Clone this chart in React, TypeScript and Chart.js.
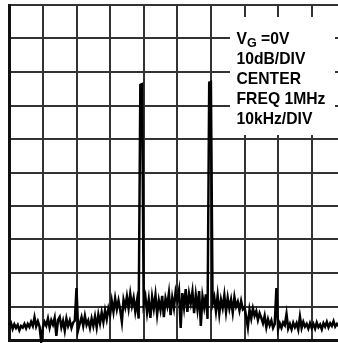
import React, { useEffect, useRef } from "react";
import { Chart, registerables } from "chart.js";

Chart.register(...registerables);

// Frequency offset from the 1 MHz centre, in kHz (10 kHz/DIV)
const FREQ_KHZ = [
  -50, -49.5, -49, -48.5, -48, -47.5, -47, -46.5, -46, -45.5,
  -45, -44.5, -44, -43.5, -43, -42.5, -42, -41.5, -41, -40.5,
  -40, -39.5, -39, -38.5, -38, -37.5, -37, -36.5, -36, -35.5,
  -35, -34.5, -34, -33.5, -33, -32.5, -32, -31.5, -31, -30.5,
  -30, -29.5, -29, -28.5, -28, -27.5, -27, -26.5, -26, -25.5,
  -25, -24.5, -24, -23.5, -23, -22.5, -22, -21.5, -21, -20.5,
  -20, -19.5, -19, -18.5, -18, -17.5, -17, -16.5, -16, -15.5,
  -15, -14.5, -14, -13.5, -13, -12.5, -12, -11.5, -11, -10.5,
  -10, -9.5, -9, -8.5, -8, -7.5, -7, -6.5, -6, -5.5,
  -5, -4.5, -4, -3.5, -3, -2.5, -2, -1.5, -1, -0.5,
  0, 0.5, 1, 1.5, 2, 2.5, 3, 3.5, 4, 4.5,
  5, 5.5, 6, 6.5, 7, 7.5, 8, 8.5, 9, 9.5,
  10, 10.5, 11, 11.5, 12, 12.5, 13, 13.5, 14, 14.5,
  15, 15.5, 16, 16.5, 17, 17.5, 18, 18.5, 19, 19.5,
  20, 20.5, 21, 21.5, 22, 22.5, 23, 23.5, 24, 24.5,
  25, 25.5, 26, 26.5, 27, 27.5, 28, 28.5, 29, 29.5,
  30, 30.5, 31, 31.5, 32, 32.5, 33, 33.5, 34, 34.5,
  35, 35.5, 36, 36.5, 37, 37.5, 38, 38.5, 39, 39.5,
  40, 40.5, 41, 41.5, 42, 42.5, 43, 43.5, 44, 44.5,
  45, 45.5, 46, 46.5, 47, 47.5, 48, 48.5, 49, 49.5,
  50,
];

// Measured level, dB (10 dB/DIV, top of screen = 0 dB)
const LEVEL_DB = [
  -95.6, -94.9, -96.7, -95.3, -96.4, -95.5, -97.1, -95.8, -96.3, -95.2,
  -96.5, -95.2, -96.1, -94.6, -95.8, -93.2, -95.9, -94.4, -96.0, -100.5,
  -96.2, -94.6, -95.7, -93.6, -96.3, -94.1, -95.4, -93.4, -98.8, -94.0,
  -93.1, -96.2, -94.3, -97.2, -93.6, -95.8, -94.2, -96.4, -94.8, -94.2,
  -84.5, -97.0, -95.0, -93.2, -95.8, -92.8, -95.5, -94.2, -96.4, -93.6,
  -95.8, -93.0, -96.2, -92.4, -95.0, -91.8, -94.6, -91.2, -93.8, -90.6,
  -92.5, -88.4, -91.6, -87.6, -90.8, -88.2, -91.0, -94.6, -88.0, -90.2,
  -87.0, -90.5, -86.2, -89.8, -87.4, -91.5, -88.2, -93.6, -23.8, -23.6,
  -89.2, -87.0, -91.8, -88.0, -93.4, -87.2, -90.6, -86.6, -92.4, -88.2,
  -91.0, -86.8, -93.2, -87.6, -89.8, -86.0, -92.6, -87.4, -90.4, -85.6,
  -88.0, -85.2, -96.4, -86.0, -90.2, -84.8, -91.6, -86.2, -89.0, -85.6,
  -92.0, -86.6, -90.8, -85.4, -95.8, -87.0, -90.2, -86.4, -93.7, -23.2,
  -23.0, -89.2, -87.2, -91.4, -86.8, -92.2, -88.0, -90.4, -86.6, -91.6,
  -87.4, -90.6, -88.0, -91.8, -87.2, -90.0, -88.6, -91.2, -88.4, -90.8,
  -90.2, -93.0, -96.2, -91.0, -93.6, -90.6, -92.8, -91.4, -94.0, -92.0,
  -93.4, -95.0, -92.8, -96.2, -93.8, -95.6, -94.2, -96.4, -95.2, -84.5,
  -96.8, -95.0, -96.4, -94.8, -95.6, -92.2, -96.6, -95.2, -96.8, -94.9,
  -96.2, -95.0, -96.9, -93.0, -96.4, -94.6, -96.0, -95.2, -96.6, -95.0,
  -96.4, -95.2, -96.6, -94.8, -96.2, -95.4, -96.8, -95.0, -96.0, -94.6,
  -96.2, -95.0, -95.8, -94.4, -96.0, -95.2, -95.8, -95.0, -96.2, -95.4,
  -95.8,
];

const X_MIN = -50;
const X_MAX = 50;
const X_STEP = 10;
const Y_MIN = -100;
const Y_MAX = 0;
const Y_STEP = 10;

const NOTE_LINES = ["10dB/DIV", "CENTER", "FREQ 1MHz", "10kHz/DIV"];

const notePlugin = {
  id: "note",
  afterDraw(chart: any) {
    const { ctx, chartArea } = chart;
    const l = chartArea.left;
    const t = chartArea.top;
    ctx.save();
    ctx.fillStyle = "#ffffff";
    ctx.fillRect(l + 220.7, t + 12, 105, 118);
    ctx.fillStyle = "#000000";
    ctx.textBaseline = "alphabetic";
    ctx.textAlign = "left";
    const big = 'bold 15.7px "Liberation Sans", Arial, sans-serif';
    const small = 'bold 12.5px "Liberation Sans", Arial, sans-serif';
    const x0 = l + 227.2;
    ctx.font = big;
    ctx.fillText("V", x0, t + 39);
    let x = x0 + ctx.measureText("V").width;
    ctx.font = small;
    ctx.fillText("G", x, t + 41.7);
    x += ctx.measureText("G").width;
    ctx.font = big;
    ctx.fillText(" =0V", x, t + 39);
    NOTE_LINES.forEach((s, i) => {
      ctx.fillText(s, x0, t + 59 + i * 20);
    });
    ctx.restore();
  },
};

export default function App() {
  const ref = useRef<HTMLCanvasElement | null>(null);
  useEffect(() => {
    if (!ref.current) return;
    const data = FREQ_KHZ.map((f, i) => ({ x: f, y: LEVEL_DB[i] }));
    const gridCommon = {
      color: "#333333",
      lineWidth: 2,
      drawTicks: false,
    };
    const chart = new Chart(ref.current, {
      type: "line",
      data: {
        datasets: [
          {
            data,
            borderColor: "#000000",
            borderWidth: 2.5,
            pointRadius: 0,
            tension: 0,
            fill: false,
            clip: 4,
          },
        ],
      },
      options: {
        animation: false,
        responsive: false,
        devicePixelRatio: 1,
        layout: { padding: { left: 9.3, top: 5, right: 14.7, bottom: 3 } },
        plugins: {
          legend: { display: false },
          tooltip: { enabled: false },
        },
        scales: {
          x: {
            type: "linear",
            min: X_MIN,
            max: X_MAX,
            ticks: { display: false, stepSize: X_STEP },
            grid: gridCommon,
            border: { display: true, color: "#111111", width: 3 },
          },
          y: {
            type: "linear",
            min: Y_MIN,
            max: Y_MAX,
            ticks: { display: false, stepSize: Y_STEP },
            grid: gridCommon,
            border: { display: true, color: "#111111", width: 3 },
          },
        },
      },
      plugins: [notePlugin],
    });
    return () => chart.destroy();
  }, []);
  return (
    <div
      style={{
        position: "fixed",
        left: 0,
        top: 0,
        width: 338,
        height: 343,
        overflow: "hidden",
        background: "#ffffff",
      }}
    >
      <canvas ref={ref} width={360} height={343} style={{ display: "block" }} />
    </div>
  );
}
